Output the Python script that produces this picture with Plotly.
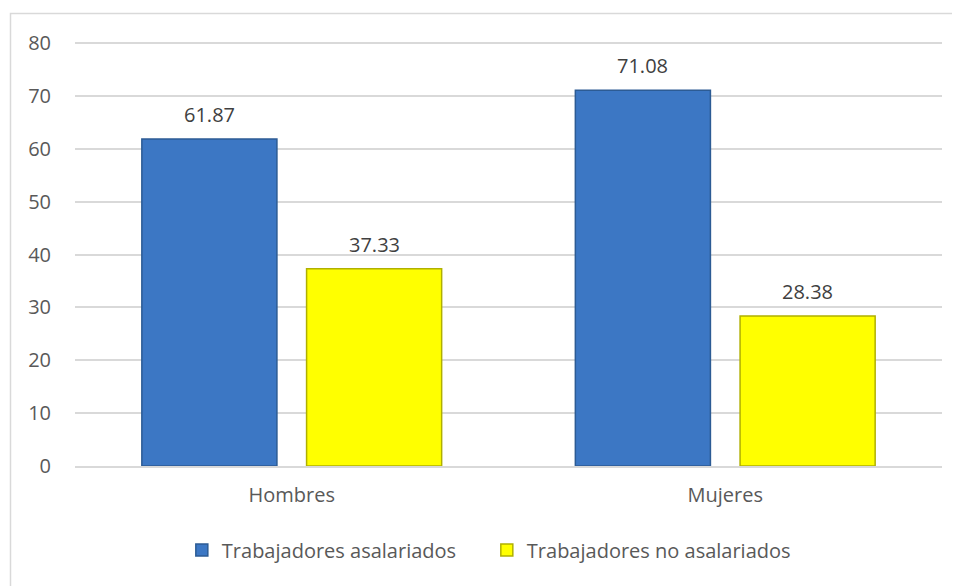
import plotly.graph_objects as go

categories = ["Hombres", "Mujeres"]
asalariados = [61.87, 71.08]
no_asalariados = [37.33, 28.38]
series_names = ["Trabajadores asalariados", "Trabajadores no asalariados"]
y_ticks = [0, 10, 20, 30, 40, 50, 60, 70, 80]

W, H = 952, 578
ml, mr, mt, mb = 67, 18, 34, 120
pw = W - ml - mr
ph = H - mt - mb
BARGAP = 0.24
slot = (1 - BARGAP) / 2

fig = go.Figure()
fig.add_trace(go.Bar(
    x=categories, y=asalariados, name=series_names[0],
    marker=dict(color="#3C77C4", line=dict(color="#2C5B94", width=1.5)),
))
fig.add_trace(go.Bar(
    x=categories, y=no_asalariados, name=series_names[1],
    marker=dict(color="#FFFF00", line=dict(color="#B0B000", width=1.5)),
))

# value labels placed above each bar through the axis scales
for k, series in enumerate([asalariados, no_asalariados]):
    off = (k - 0.5) * slot
    for i, v in enumerate(series):
        fig.add_annotation(x=i + off, y=v, xref="x", yref="y", text=f"{v:.2f}",
                           showarrow=False, yanchor="bottom", yshift=9,
                           font=dict(size=20, color="#404040"))

fig.add_shape(type="rect", xref="paper", yref="paper",
              x0=(2.5 - ml) / pw, x1=(W + 20 - ml) / pw,
              y0=-(H + 20 - mt - ph) / ph, y1=(mt + ph - 5.5) / ph,
              line=dict(color="#D9D9D9", width=1.5), layer="below")

fig.update_layout(
    width=W, height=H,
    margin=dict(l=ml, r=mr, t=mt, b=mb),
    paper_bgcolor="white", plot_bgcolor="white",
    font=dict(family="Open Sans, sans-serif", size=20, color="#595959"),
    barmode="group", bargap=BARGAP, bargroupgap=0.18,
    showlegend=True,
    legend=dict(orientation="h", x=0.475, xanchor="center", y=-(542 - (mt + ph)) / ph,
                yanchor="middle", font=dict(size=20, color="#595959"),
                itemwidth=30, tracegroupgap=0,
                entrywidth=260, entrywidthmode="pixels"),
    xaxis=dict(showgrid=False, showline=True, linecolor="#D9D9D9", linewidth=1.5,
               ticks="", ticklabelstandoff=10, tickfont=dict(size=20, color="#595959")),
    yaxis=dict(range=[0, 80.2], tickvals=y_ticks, showgrid=True, gridcolor="#D9D9D9",
               gridwidth=1.5, zeroline=False, showline=False, ticks="",
               ticklabelstandoff=23, tickfont=dict(size=20, color="#595959")),
)

fig.write_html("out.html")
